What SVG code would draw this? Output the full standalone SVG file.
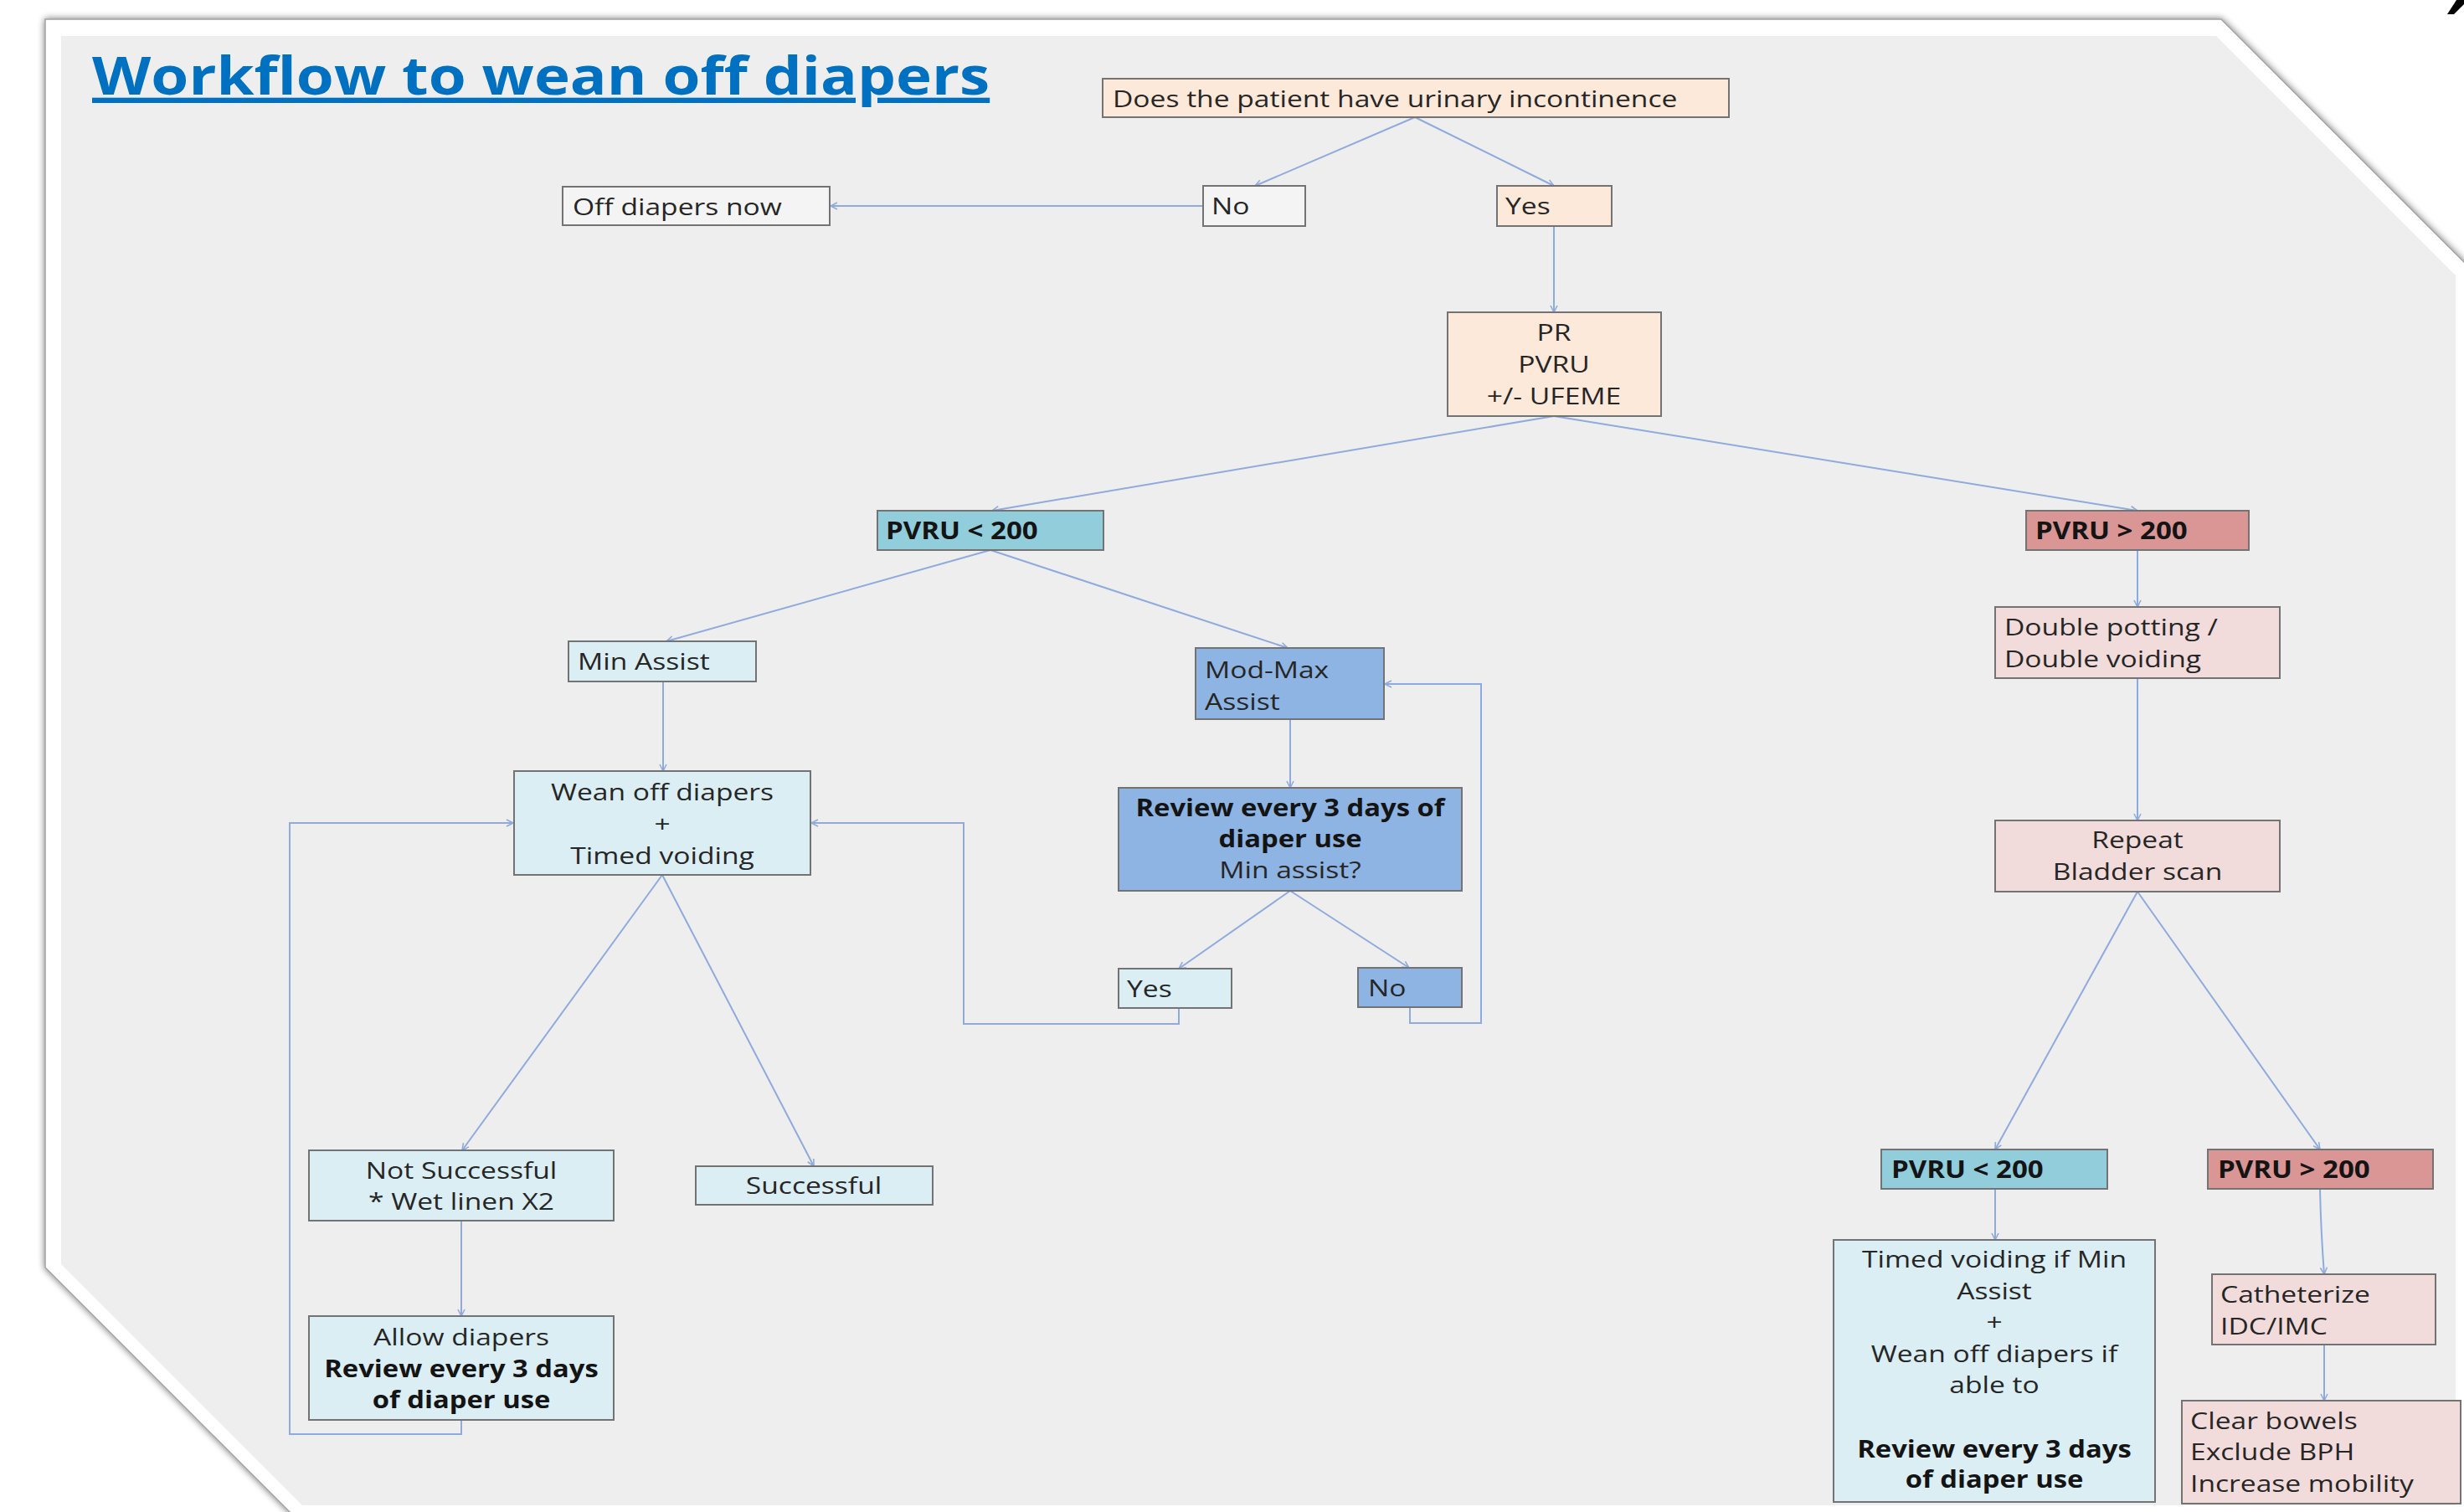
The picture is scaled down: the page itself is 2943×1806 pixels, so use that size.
<svg xmlns="http://www.w3.org/2000/svg" width="2943" height="1806" viewBox="0 0 2943 1806">
<defs>
<style>
.box{stroke:#737373;stroke-width:2}
.peach{fill:#FDE9D9}
.plain{fill:#F4F4F4}
.lblue{fill:#DBEEF4}
.teal{fill:#92CDDC}
.mblue{fill:#8DB4E2}
.red{fill:#DA9694}
.pink{fill:#F2DCDB}
text{font-family:"Open Sans","Liberation Sans",sans-serif;font-size:28px;fill:#262626}
.b{font-weight:700;fill:#141414}
.c{text-anchor:middle}
.conn{fill:none;stroke:#8FAADC;stroke-width:2}
.title{font-size:63px;font-weight:700;fill:#0070C0;text-decoration:underline}
</style>
<marker id="arr" markerWidth="12" markerHeight="12" refX="10" refY="6" orient="auto" markerUnits="userSpaceOnUse">
<path d="M2,2 L10,6 L2,10" fill="none" stroke="#8FAADC" stroke-width="1.6"/>
</marker>
<filter id="sh" x="-5%" y="-5%" width="110%" height="110%">
<feGaussianBlur in="SourceAlpha" stdDeviation="4"/>
<feComponentTransfer><feFuncA type="linear" slope="0.55"/></feComponentTransfer>
<feMerge><feMergeNode/><feMergeNode in="SourceGraphic"/></feMerge>
</filter>
</defs>
<rect x="0" y="0" width="2943" height="1806" fill="#FFFFFF"/>
<g id="background">
<polygon points="54,23 2653,23 3000,370 3000,1900 440,1900 54,1514" fill="#FFFFFF" stroke="#A0A0A0" stroke-width="1.5" filter="url(#sh)"/>
<polygon points="73,43 2647,43 2933,329 2933,1798 361,1798 73,1510" fill="#EEEEEE"/>
<polygon points="2934,0 2943,0 2943,5 2931,17 2923,17" fill="#000000"/>
</g>
<g id="title">
<text class="title" transform="translate(110 0) scale(1.155 1)" x="0" y="113">Workflow to wean off diapers</text>
</g>
<g id="connectors">
<line class="conn" x1="1690" y1="140" x2="1499" y2="222" marker-end="url(#arr)"/>
<line class="conn" x1="1690" y1="140" x2="1856" y2="222" marker-end="url(#arr)"/>
<line class="conn" x1="1437" y1="246" x2="992" y2="246" marker-end="url(#arr)"/>
<line class="conn" x1="1856" y1="270" x2="1856" y2="373" marker-end="url(#arr)"/>
<line class="conn" x1="1856" y1="497" x2="1185" y2="610" marker-end="url(#arr)"/>
<line class="conn" x1="1856" y1="497" x2="2553" y2="610" marker-end="url(#arr)"/>
<line class="conn" x1="1183" y1="657" x2="796" y2="766" marker-end="url(#arr)"/>
<line class="conn" x1="1183" y1="657" x2="1538" y2="774" marker-end="url(#arr)"/>
<line class="conn" x1="792" y1="814" x2="792" y2="921" marker-end="url(#arr)"/>
<line class="conn" x1="1541" y1="859" x2="1541" y2="941" marker-end="url(#arr)"/>
<line class="conn" x1="1541" y1="1064" x2="1408" y2="1157" marker-end="url(#arr)"/>
<line class="conn" x1="1541" y1="1064" x2="1683" y2="1156" marker-end="url(#arr)"/>
<polyline class="conn" points="1408,1204 1408,1223 1151,1223 1151,983 969,983" marker-end="url(#arr)"/>
<polyline class="conn" points="1684,1203 1684,1222 1769,1222 1769,817 1654,817" marker-end="url(#arr)"/>
<line class="conn" x1="791" y1="1045" x2="552" y2="1374" marker-end="url(#arr)"/>
<line class="conn" x1="791" y1="1045" x2="972" y2="1393" marker-end="url(#arr)"/>
<line class="conn" x1="551" y1="1458" x2="551" y2="1572" marker-end="url(#arr)"/>
<polyline class="conn" points="551,1696 551,1713 346,1713 346,983 613,983" marker-end="url(#arr)"/>
<line class="conn" x1="2553" y1="657" x2="2553" y2="725" marker-end="url(#arr)"/>
<line class="conn" x1="2553" y1="810" x2="2553" y2="980" marker-end="url(#arr)"/>
<line class="conn" x1="2553" y1="1065" x2="2383" y2="1373" marker-end="url(#arr)"/>
<line class="conn" x1="2553" y1="1065" x2="2771" y2="1373" marker-end="url(#arr)"/>
<line class="conn" x1="2383" y1="1420" x2="2383" y2="1481" marker-end="url(#arr)"/>
<path class="conn" d="M2771,1420 Q2772,1470 2776,1522" marker-end="url(#arr)"/>
<line class="conn" x1="2776" y1="1606" x2="2776" y2="1673" marker-end="url(#arr)"/>
</g>
<g id="n-question">
<rect class="box peach" x="1317" y="94" width="748" height="46"/>
<text transform="translate(1329 0) scale(1.2 1)" x="0" y="128">Does the patient have urinary incontinence</text>
</g>
<g id="n-no">
<rect class="box plain" x="1437" y="222" width="122" height="48"/>
<text transform="translate(1447 0) scale(1.2 1)" x="0" y="256">No</text>
</g>
<g id="n-yes">
<rect class="box peach" x="1788" y="222" width="137" height="48"/>
<text transform="translate(1798 0) scale(1.2 1)" x="0" y="256">Yes</text>
</g>
<g id="n-off">
<rect class="box plain" x="672" y="223" width="319" height="46"/>
<text transform="translate(684 0) scale(1.2 1)" x="0" y="257">Off diapers now</text>
</g>
<g id="n-pr">
<rect class="box peach" x="1729" y="373" width="255" height="124"/>
<text class="c" transform="translate(1856 0) scale(1.2 1)"><tspan x="0" y="407">PR</tspan><tspan x="0" y="445">PVRU</tspan><tspan x="0" y="483">+/- UFEME</tspan></text>
</g>
<g id="n-pvru-lt">
<rect class="box teal" x="1048" y="610" width="270" height="47"/>
<text class="b" transform="translate(1058 0) scale(1.18 1)" x="0" y="644">PVRU &lt; 200</text>
</g>
<g id="n-pvru-gt">
<rect class="box red" x="2420" y="610" width="266" height="47"/>
<text class="b" transform="translate(2431 0) scale(1.18 1)" x="0" y="644">PVRU &gt; 200</text>
</g>
<g id="n-min">
<rect class="box lblue" x="679" y="766" width="224" height="48"/>
<text transform="translate(690 0) scale(1.2 1)" x="0" y="800">Min Assist</text>
</g>
<g id="n-modmax">
<rect class="box mblue" x="1428" y="774" width="225" height="85"/>
<text transform="translate(1439 0) scale(1.2 1)"><tspan x="0" y="810">Mod-Max</tspan><tspan x="0" y="848">Assist</tspan></text>
</g>
<g id="n-wean">
<rect class="box lblue" x="614" y="921" width="354" height="124"/>
<text class="c" transform="translate(791 0) scale(1.2 1)"><tspan x="0" y="956">Wean off diapers</tspan><tspan x="0" y="994">+</tspan><tspan x="0" y="1032">Timed voiding</tspan></text>
</g>
<g id="n-review">
<rect class="box mblue" x="1336" y="941" width="410" height="123"/>
<text class="c b" transform="translate(1541 0) scale(1.17 1)"><tspan x="0" y="975">Review every 3 days of</tspan><tspan x="0" y="1012">diaper use</tspan></text>
<text class="c" transform="translate(1541 0) scale(1.2 1)" x="0" y="1049">Min assist?</text>
</g>
<g id="n-yes2">
<rect class="box lblue" x="1336" y="1157" width="135" height="47"/>
<text transform="translate(1346 0) scale(1.2 1)" x="0" y="1191">Yes</text>
</g>
<g id="n-no2">
<rect class="box mblue" x="1622" y="1156" width="124" height="47"/>
<text transform="translate(1634 0) scale(1.2 1)" x="0" y="1190">No</text>
</g>
<g id="n-notsucc">
<rect class="box lblue" x="369" y="1374" width="364" height="84"/>
<text class="c" transform="translate(551 0) scale(1.2 1)"><tspan x="0" y="1408">Not Successful</tspan><tspan x="0" y="1445">* Wet linen X2</tspan></text>
</g>
<g id="n-succ">
<rect class="box lblue" x="831" y="1393" width="283" height="46"/>
<text class="c" transform="translate(972 0) scale(1.2 1)" x="0" y="1426">Successful</text>
</g>
<g id="n-allow">
<rect class="box lblue" x="369" y="1572" width="364" height="124"/>
<text class="c" transform="translate(551 0) scale(1.2 1)" x="0" y="1607">Allow diapers</text>
<text class="c b" transform="translate(551 0) scale(1.17 1)"><tspan x="0" y="1645">Review every 3 days</tspan><tspan x="0" y="1682">of diaper use</tspan></text>
</g>
<g id="n-double">
<rect class="box pink" x="2383" y="725" width="340" height="85"/>
<text transform="translate(2394 0) scale(1.2 1)"><tspan x="0" y="759">Double potting /</tspan><tspan x="0" y="797">Double voiding</tspan></text>
</g>
<g id="n-repeat">
<rect class="box pink" x="2383" y="980" width="340" height="85"/>
<text class="c" transform="translate(2553 0) scale(1.2 1)"><tspan x="0" y="1013">Repeat</tspan><tspan x="0" y="1051">Bladder scan</tspan></text>
</g>
<g id="n-pvru-lt2">
<rect class="box teal" x="2247" y="1373" width="270" height="47"/>
<text class="b" transform="translate(2259 0) scale(1.18 1)" x="0" y="1407">PVRU &lt; 200</text>
</g>
<g id="n-pvru-gt2">
<rect class="box red" x="2637" y="1373" width="269" height="47"/>
<text class="b" transform="translate(2649 0) scale(1.18 1)" x="0" y="1407">PVRU &gt; 200</text>
</g>
<g id="n-timed">
<rect class="box lblue" x="2190" y="1481" width="384" height="313"/>
<text class="c" transform="translate(2382 0) scale(1.2 1)"><tspan x="0" y="1514">Timed voiding if Min</tspan><tspan x="0" y="1552">Assist</tspan><tspan x="0" y="1589">+</tspan><tspan x="0" y="1627">Wean off diapers if</tspan><tspan x="0" y="1664">able to</tspan></text>
<text class="c b" transform="translate(2382 0) scale(1.17 1)"><tspan x="0" y="1741">Review every 3 days</tspan><tspan x="0" y="1777">of diaper use</tspan></text>
</g>
<g id="n-cath">
<rect class="box pink" x="2642" y="1522" width="267" height="84"/>
<text transform="translate(2652 0) scale(1.2 1)"><tspan x="0" y="1556">Catheterize</tspan><tspan x="0" y="1594">IDC/IMC</tspan></text>
</g>
<g id="n-clear">
<rect class="box pink" x="2606" y="1673" width="333" height="123"/>
<text transform="translate(2616 0) scale(1.2 1)"><tspan x="0" y="1707">Clear bowels</tspan><tspan x="0" y="1744">Exclude BPH</tspan><tspan x="0" y="1782">Increase mobility</tspan></text>
</g>
</svg>
